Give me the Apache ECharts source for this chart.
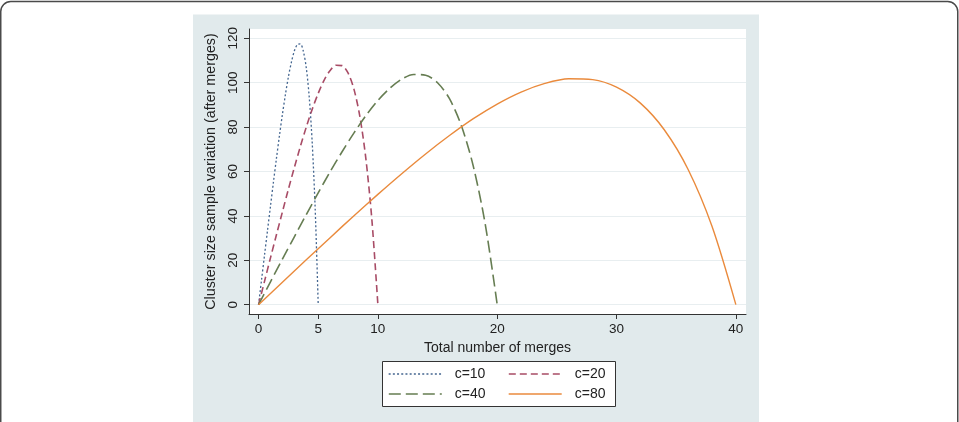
<!DOCTYPE html>
<html>
<head>
<meta charset="utf-8">
<script src="https://cdn.jsdelivr.net/npm/echarts@6/dist/echarts.min.js"></script>
<style>
html,body{margin:0;padding:0;background:#fff;}
#c{width:959px;height:422px;}
</style>
</head>
<body>
<div id="c"></div>
<script>
// ---- data ----
var seriesNames = ['c=10', 'c=20', 'c=40', 'c=80'];
var x10 = [0,0.25,0.5,0.75,1,1.25,1.5,1.75,2,2.25,2.5,2.75,3,3.25,3.5,3.75,4,4.25,4.5,4.75,5];
var y10 = [0,11.1,22.3,33.4,44.4,55.3,65.9,76.1,85.7,94.6,102.6,109.2,114.3,117.2,117.5,114.3,106.7,93.4,72.7,42.6,0];
var x20 = [0,0.5,1,1.5,2,2.5,3,3.5,4,4.5,5,5.5,6,6.5,7,7.5,8,8.5,9,9.5,10];
var y20 = [0,10.5,21.1,31.5,41.8,52.0,61.8,71.2,80.0,88.1,95.2,101.2,105.5,107.9,107.7,104.4,97.0,84.5,65.5,38.1,0];
var x40 = [0,1,2,3,4,5,6,7,8,9,10,11,12,13,14,15,16,17,18,19,20];
var y40 = [0,10.3,20.5,30.6,40.6,50.4,59.9,68.9,77.4,85.2,92.0,97.5,101.6,103.7,103.4,100.0,92.8,80.6,62.3,36.2,0];
var x80 = [0,2,4,6,8,10,12,14,16,18,20,22,24,26,28,30,32,34,36,38,40];
var y80 = [0,10.1,20.2,30.2,40.1,49.7,59.0,67.9,76.2,83.8,90.4,95.8,99.7,101.8,101.4,98.0,90.8,78.8,60.9,35.3,0];
var xTicks = [0, 5, 10, 20, 30, 40];
var yTicks = [0, 20, 40, 60, 80, 100, 120];
var xTitle = 'Total number of merges';
var yTitle = 'Cluster size sample variation (after merges)';

function pairs(xs, ys) { return xs.map(function (x, i) { return [x, ys[i]]; }); }

var colors = ['#446690', '#a84c66', '#667d52', '#ea8a3c'];
var dashes = [[2, 2.2], [7, 4], [12, 5], 'solid'];
var widths = [1.3, 1.6, 1.6, 1.4];
var dataSets = [pairs(x10, y10), pairs(x20, y20), pairs(x40, y40), pairs(x80, y80)];

var FONT = '"Liberation Sans", Arial, Helvetica, sans-serif';
var TXT = '#222';

var series = seriesNames.map(function (n, i) {
  return {
    name: n, type: 'line', data: dataSets[i], symbol: 'none', showSymbol: false,
    smooth: 0.3, clip: false,
    lineStyle: { color: colors[i], width: widths[i], type: dashes[i] },
    itemStyle: { color: colors[i] },
    emphasis: { disabled: true }, animation: false
  };
});

var legendPos = [[388, 367], [508, 367], [388, 387], [508, 387]];
var legends = seriesNames.map(function (n, i) {
  return {
    data: [n], left: legendPos[i][0], top: legendPos[i][1], padding: 0, z: 20,
    itemWidth: 53, itemHeight: 14, selectedMode: false,
    itemStyle: { opacity: 0, borderWidth: 0 },
    lineStyle: { width: widths[i] },
    textStyle: { fontFamily: FONT, fontSize: 14, color: TXT, padding: [0, 0, 0, 8] }
  };
});

var chart = echarts.init(document.getElementById('c'), null, { renderer: 'canvas' });
chart.setOption({
  animation: false,
  backgroundColor: '#ffffff',
  graphic: [
    { type: 'rect', z: -20, silent: true, shape: { x: 0.75, y: 1.5, width: 957, height: 470, r: 10 },
      style: { fill: '#ffffff', stroke: '#4a4a4a', lineWidth: 1.5 } },
    { type: 'rect', z: -10, silent: true, shape: { x: 193, y: 14.5, width: 566, height: 420 },
      style: { fill: '#e1eaec' } },
    { type: 'rect', z: 1, silent: true, shape: { x: 382.5, y: 361.5, width: 233, height: 45 },
      style: { fill: '#ffffff', stroke: '#333', lineWidth: 1 } }
  ],
  legend: legends,
  grid: {
    left: 249, right: 213, top: 29, bottom: 108, containLabel: false,
    show: true, backgroundColor: '#ffffff', borderWidth: 0, z: 0
  },
  xAxis: {
    type: 'value', min: -0.8, max: 40.85,
    name: xTitle, nameLocation: 'middle', nameGap: 23,
    nameTextStyle: { fontFamily: FONT, fontSize: 14, color: TXT },
    axisLine: { show: true, onZero: false, lineStyle: { color: '#333', width: 1 } },
    axisTick: { show: true, length: 5, customValues: xTicks, lineStyle: { color: '#333' } },
    axisLabel: { customValues: xTicks, margin: 8, fontFamily: FONT, fontSize: 13.5, color: TXT },
    splitLine: { show: false }
  },
  yAxis: {
    type: 'value', min: -4.2, max: 124.2,
    name: yTitle, nameLocation: 'middle', nameGap: 31,
    nameTextStyle: { fontFamily: FONT, fontSize: 14.3, color: TXT },
    axisLine: { show: true, onZero: false, lineStyle: { color: '#333', width: 1 } },
    axisTick: { show: true, length: 5, customValues: yTicks, lineStyle: { color: '#333' } },
    axisLabel: { customValues: yTicks, rotate: 90, margin: 9, fontFamily: FONT, fontSize: 13.5, color: TXT },
    splitLine: { show: true, lineStyle: { color: '#e8eef0', width: 1 } }
  },
  series: series
});
</script>
</body>
</html>
